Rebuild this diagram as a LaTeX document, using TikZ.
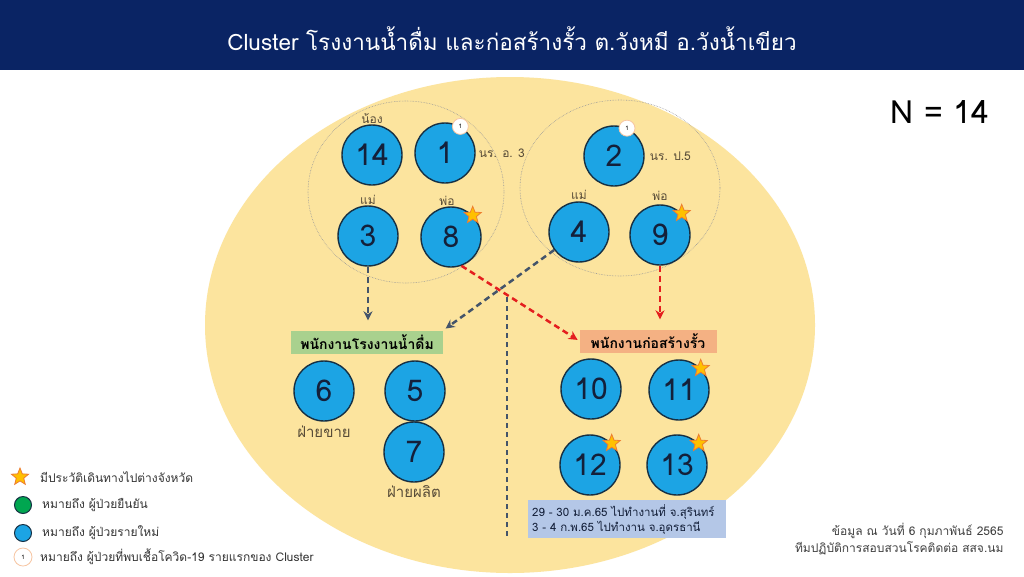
\documentclass[tikz,border=0pt]{standalone}
\usepackage{fontspec}
\setmainfont{Loma}[Script=Thai]
\usepackage{tikz}
\newcommand{\casesize}{60pt}
\newcommand{\fsz}[1]{\fontsize{#1}{#1}\selectfont}
\definecolor{titleBlue}{RGB}{10,36,100}
\definecolor{sandYellow}{RGB}{252,228,158}
\definecolor{caseBlue}{RGB}{28,164,228}
\definecolor{caseLine}{RGB}{22,48,68}
\definecolor{numInk}{RGB}{20,32,58}
\definecolor{boxGreen}{RGB}{169,209,142}
\definecolor{boxSalmon}{RGB}{244,177,131}
\definecolor{noteBlue}{RGB}{180,199,231}
\definecolor{linkGray}{RGB}{68,84,106}
\definecolor{linkRed}{RGB}{228,30,30}
\definecolor{starFill}{RGB}{255,192,0}
\definecolor{starLine}{RGB}{237,125,49}
\definecolor{tagInk}{RGB}{88,76,56}
\definecolor{legGreen}{RGB}{0,166,80}
\usetikzlibrary{arrows.meta,positioning,shapes.geometric}
\tikzset{
  x=1pt,y=-1pt,
  case/.style={draw=caseLine,line width=1.4pt,fill=caseBlue,shape=circle,minimum size=\casesize,inner sep=0,text=numInk,font=\fsz{30}},
  tag/.style={text=tagInk,inner sep=1pt,font=\fsz{12}},
  sidetag/.style={text=tagInk,inner sep=1pt,font=\fsz{15}},
  team/.style={shape=rectangle,minimum width=152pt,minimum height=23pt,inner sep=2pt,text=black,font=\bfseries\fsz{14}},
  travel/.style={draw=starLine,fill=starFill,line width=0.8pt,shape=star,star points=5,star point ratio=2.3,minimum size=18pt,inner sep=0},
  first/.style={draw=starLine!45,fill=white,line width=0.8pt,shape=circle,minimum size=16pt,inner sep=0,font=\fsz{6}},
  household/.style={draw=gray!80,densely dotted,line width=0.6pt},
  link/.style={draw,-{Stealth[length=9pt,width=9pt]},line width=2.5pt,dash pattern=on 6pt off 4pt},
  legtext/.style={anchor=west,inner sep=0,text=black!80,font=\fsz{12}},
}
\begin{document}
\begin{tikzpicture}
  \useasboundingbox (0,0) rectangle (1024,576);
  \fill [white] (0,0) rectangle (1024,576);
  % title
  \fill [titleBlue] (0,0) rectangle (1024,70);
  \node (title) at (512,39) [text=white,font=\fsz{22.5}] {Cluster โรงงานน้ำดื่ม และก่อสร้างรั้ว ต.วังหมี อ.วังน้ำเขียว};
  \node (total) at (940,112) [font=\fsz{32}] {N = 14};
  % background
  \fill [sandYellow] (510,325) ellipse [x radius=305,y radius=248];
  \draw [household] (406,192) ellipse [x radius=98,y radius=91];
  \draw [household] (620,188) ellipse [x radius=100,y radius=88];
  \draw [linkGray,line width=1.1pt,dash pattern=on 5pt off 4pt] (507,297) -- (507,537);
  % households
  \node (n14) at (372,155) [case] {14};
  \node (n1) at (445,153) [case] {1};
  \node (n3) at (368,236) [case] {3};
  \node (n8) at (451,237) [case] {8};
  \node (n2) at (614,156) [case] {2};
  \node (n4) at (579,232) [case] {4};
  \node (n9) at (660,235) [case] {9};
  \node (t14) [tag,above=0pt of n14] {น้อง};
  \node (t1) [tag,right=2pt of n1] {นร. อ. 3};
  \node (t3) [tag,above=0pt of n3] {แม่};
  \node (t8) [tag,above=0pt of n8,xshift=-4pt] {พ่อ};
  \node (t2) [tag,right=4pt of n2] {นร. ป.5};
  \node (t4) [tag,above=1pt of n4] {แม่};
  \node (t9) [tag,above=3pt of n9] {พ่อ};
  \node (f1) at (n1.60) [first] {1};
  \node (f2) at (n2.65) [first] {1};
  % workplaces
  \node (water) at (367,342) [team,fill=boxGreen] {พนักงานโรงงานน้ำดื่ม};
  \node (fence) at (648,341) [team,fill=boxSalmon,minimum width=137pt] {พนักงานก่อสร้างรั้ว};
  \node (n6) at (324,391) [case] {6};
  \node (n5) at (415,391) [case] {5};
  \node (n7) at (414,452) [case] {7};
  \node (n10) at (591,389) [case] {10};
  \node (n11) at (679,390) [case] {11};
  \node (n12) at (590,465) [case] {12};
  \node (n13) at (677,465) [case] {13};
  \node (t6) [sidetag,below=3pt of n6] {ฝ่ายขาย};
  \node (t7) [sidetag,below=2pt of n7] {ฝ่ายผลิต};
  \foreach \n in {8,9,11,12,13}
    \node (s\n) at (n\n.45) [travel] {};
  \node (trip) at (528,500) [anchor=north west,fill=noteBlue,minimum width=197pt,minimum height=35pt,text width=190pt,align=left,inner sep=4pt,text=numInk,font=\fsz{11.5}] {29 - 30 ม.ค.65 ไปทำงานที่ จ.สุรินทร์\\[1pt]3 - 4 ก.พ.65 ไปทำงาน จ.อุดรธานี};
  % links
  \path [link,linkGray,shorten >=10pt] (n3) -- (n3 |- water.north);
  \path [link,linkGray,shorten >=3pt] (n4) -- (water.north east);
  \path [link,linkRed,shorten >=2pt] (n8.290) -- (fence.west);
  \path [link,linkRed,shorten >=10pt] (n9) -- (n9 |- fence.north);
  % legend
  \node (l1) at (20,477) [travel] {};
  \node (l2) at (23,505) [draw=caseLine,fill=legGreen,line width=1pt,shape=circle,minimum size=17pt,inner sep=0] {};
  \node (l3) at (23,533) [draw=caseLine,fill=caseBlue,line width=1pt,shape=circle,minimum size=17pt,inner sep=0] {};
  \node (l4) at (23,557) [first,minimum size=18pt] {1};
  \node (lt1) at (40,477) [legtext] {มีประวัติเดินทางไปต่างจังหวัด};
  \node (lt2) at (42,505) [legtext] {หมายถึง ผู้ป่วยยืนยัน};
  \node (lt3) at (42,533) [legtext] {หมายถึง ผู้ป่วยรายใหม่};
  \node (lt4) at (40,557) [legtext] {หมายถึง ผู้ป่วยที่พบเชื้อโควิด-19 รายแรกของ Cluster};
  % source
  \node (source) at (1007,539) [anchor=east,align=right,text=black!75,font=\fsz{12}] {ข้อมูล ณ วันที่ 6 กุมภาพันธ์ 2565\\[2pt]ทีมปฏิบัติการสอบสวนโรคติดต่อ สสจ.นม};
\end{tikzpicture}
\end{document}
